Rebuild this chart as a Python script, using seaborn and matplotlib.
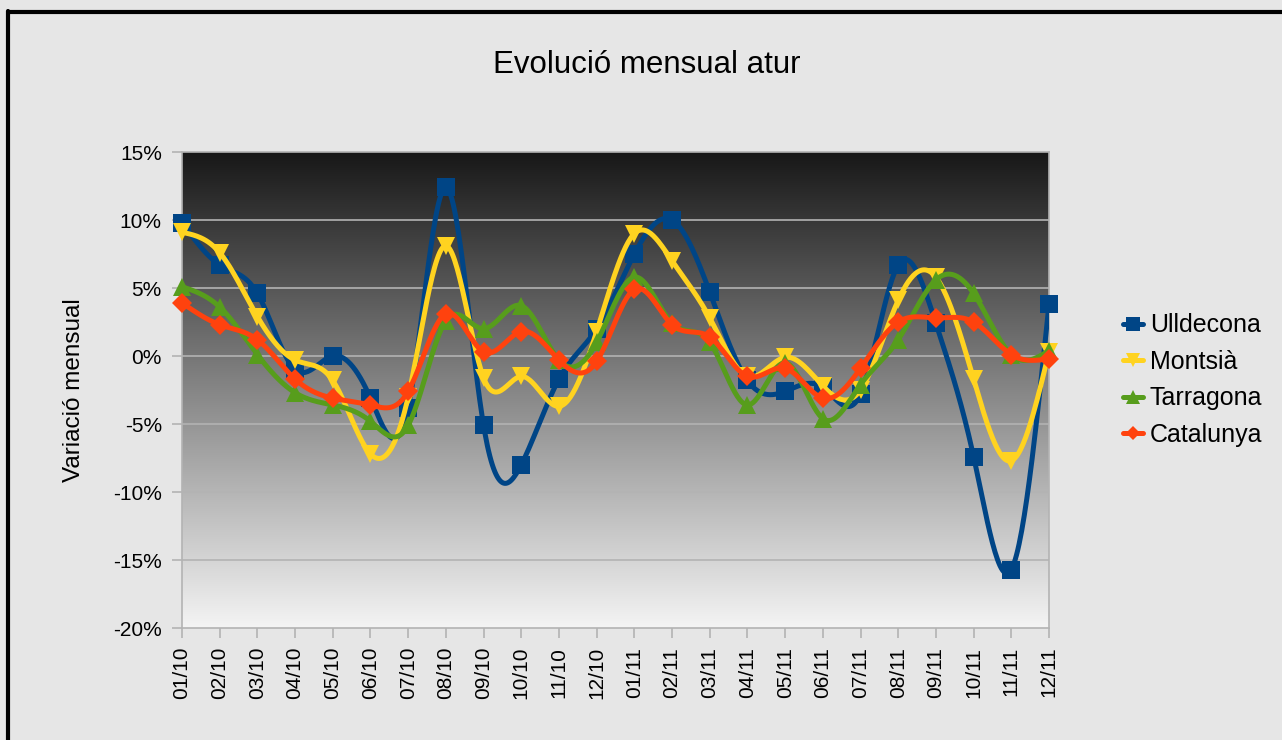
import numpy as np
import pandas as pd
import matplotlib
matplotlib.use('Agg')
import matplotlib.pyplot as plt
from matplotlib.lines import Line2D
import seaborn as sns

months = ['01/10', '02/10', '03/10', '04/10', '05/10', '06/10', '07/10', '08/10',
          '09/10', '10/10', '11/10', '12/10', '01/11', '02/11', '03/11', '04/11',
          '05/11', '06/11', '07/11', '08/11', '09/11', '10/11', '11/11', '12/11']

ulldecona = [9.8, 6.7, 4.6, -1.0, 0.0, -3.1, -3.8, 12.4, -5.1, -8.0, -1.7, 2.0,
             7.5, 10.0, 4.7, -1.8, -2.6, -2.3, -2.8, 6.7, 2.4, -7.4, -15.7, 3.8]
montsia = [9.1, 7.6, 2.9, -0.3, -1.8, -7.2, -3.0, 8.1, -1.6, -1.5, -3.7, 1.8,
           9.0, 7.0, 2.8, -1.5, -0.1, -2.2, -2.5, 4.1, 5.8, -1.7, -7.7, 0.3]
tarragona = [5.1, 3.6, 0.1, -2.7, -3.6, -4.8, -5.1, 2.6, 2.0, 3.7, -0.3, 1.0,
             5.8, 2.4, 1.0, -3.6, -0.5, -4.6, -2.1, 1.2, 5.6, 4.6, 0.1, 0.4]
catalunya = [3.9, 2.3, 1.2, -1.7, -3.1, -3.6, -2.6, 3.1, 0.3, 1.8, -0.3, -0.4,
             4.9, 2.3, 1.4, -1.5, -0.9, -3.1, -0.9, 2.5, 2.8, 2.5, 0.1, -0.2]

series_names = ['Ulldecona', 'Montsià', 'Tarragona', 'Catalunya']
series_vals = [ulldecona, montsia, tarragona, catalunya]
colors = ['#004586', '#ffd320', '#579d1c', '#ff420e']
markers = ['s', 'v', '^', 'D']
msizes = [13, 13, 13, 10]

yticks = [15, 10, 5, 0, -5, -10, -15, -20]


def natural_spline(x, y, n=30):
    # natural cubic spline through the points, only used to draw the smooth line
    x = np.asarray(x, float)
    y = np.asarray(y, float)
    k = len(x)
    h = np.diff(x)
    A = np.zeros((k, k))
    b = np.zeros(k)
    A[0, 0] = 1
    A[-1, -1] = 1
    for i in range(1, k - 1):
        A[i, i - 1] = h[i - 1]
        A[i, i] = 2 * (h[i - 1] + h[i])
        A[i, i + 1] = h[i]
        b[i] = 3 * ((y[i + 1] - y[i]) / h[i] - (y[i] - y[i - 1]) / h[i - 1])
    c = np.linalg.solve(A, b)
    xs, ys = [], []
    for i in range(k - 1):
        bb = (y[i + 1] - y[i]) / h[i] - h[i] * (2 * c[i] + c[i + 1]) / 3
        d = (c[i + 1] - c[i]) / (3 * h[i])
        t = np.linspace(0, h[i], n, endpoint=(i == k - 2))
        xs.extend(x[i] + t)
        ys.extend(y[i] + bb * t + c[i] * t ** 2 + d * t ** 3)
    return np.array(xs), np.array(ys)


sns.set_style('white')
plt.rcParams['font.family'] = ['Liberation Sans', 'DejaVu Sans']
plt.rcParams['text.color'] = 'black'

fig = plt.figure(figsize=(12.82, 7.40), dpi=100)
fig.patch.set_facecolor('#e6e6e6')
ax = fig.add_axes([182 / 1282, 1 - 628 / 740, (1049 - 182) / 1282, (628 - 152) / 740])

# gradient background of the plot area
grad = np.linspace(0, 1, 256).reshape(-1, 1)
ax.imshow(grad, cmap=matplotlib.colors.LinearSegmentedColormap.from_list('g', ['#181818', '#f4f4f4']),
          extent=[0, 1, 0, 1], transform=ax.transAxes, aspect='auto', zorder=0)

x = np.arange(len(months))
for i, (name, vals) in enumerate(zip(series_names, series_vals)):
    xs, ys = natural_spline(x, vals)
    sns.lineplot(x=xs, y=ys, ax=ax, color=colors[i], linewidth=3.6, sort=False,
                 zorder=3 + i * 2, legend=False)
    pts = pd.DataFrame({'x': x, 'y': vals})
    ax.plot(pts['x'], pts['y'], linestyle='none', marker=markers[i], markersize=msizes[i],
            color=colors[i], markeredgewidth=0, zorder=4 + i * 2, clip_on=False)

ax.set_xlim(0, 23)
ax.set_ylim(-20, 15)
ax.set_xticks(x)
ax.set_xticklabels(months, rotation=90, fontsize=15)
ax.set_yticks(yticks)
ax.set_yticklabels([f'{v}%' for v in yticks], fontsize=15)
for v in yticks[1:-1]:
    ax.axhline(v, color='#b3b3b3', linewidth=1.2, zorder=1)
ax.tick_params(axis='both', width=1.2, color='#b3b3b3', labelcolor='black', direction='out')
ax.tick_params(axis='y', length=7.5, pad=7, left=True)
ax.tick_params(axis='x', length=7.5, pad=6, bottom=True)
for s in ax.spines.values():
    s.set_color('#b3b3b3')
    s.set_linewidth(1.2)
    s.set_zorder(2)
ax.set_xlabel('')
ax.set_ylabel('Variació mensual', fontsize=17.5, labelpad=20, color='black')

fig.text(647 / 1282, 1 - 65 / 740, 'Evolució mensual atur', fontsize=22.5,
         ha='center', va='center', color='black')

handles = [Line2D([0], [0], color=colors[i], linewidth=3.6, marker=markers[i],
                  markersize=msizes[i] * 0.75, markeredgewidth=0)
           for i in range(4)]
fig.legend(handles, series_names, loc='center left', bbox_to_anchor=(1100 / 1282, 1 - 380 / 740),
           frameon=False, fontsize=18, handlelength=0.8, handletextpad=0.3, labelspacing=0.5,
           labelcolor='black')

# black frame on top and left as in the reference
fig.add_artist(Line2D([8 / 1282, 8 / 1282], [0, 1 - 11 / 740], transform=fig.transFigure,
                      color='black', linewidth=3))
fig.add_artist(Line2D([8 / 1282, 1], [1 - 12 / 740, 1 - 12 / 740], transform=fig.transFigure,
                      color='black', linewidth=3))

fig.savefig('out.png', dpi=100, facecolor=fig.get_facecolor())
